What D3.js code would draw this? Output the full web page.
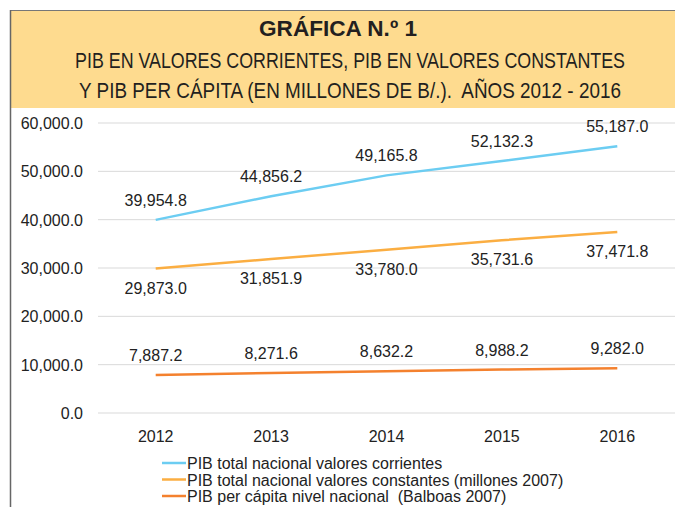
<!DOCTYPE html>
<html>
<head>
<meta charset="utf-8">
<script src="https://cdn.jsdelivr.net/npm/d3@7"></script>
<style>
  body { margin: 0; background: #fff; }
  svg { display: block; }
  text { white-space: pre; }
</style>
</head>
<body>
<svg width="675" height="507"></svg>
<script>
// chart data
const years = ["2012", "2013", "2014", "2015", "2016"];
const corrientes = [39954.8, 44856.2, 49165.8, 52132.3, 55187.0];
const constantes = [29873.0, 31851.9, 33780.0, 35731.6, 37471.8];
const perCapita = [7887.2, 8271.6, 8632.2, 8988.2, 9282.0];
const yTicks = [0, 10000, 20000, 30000, 40000, 50000, 60000];
const seriesNames = [
  "PIB total nacional valores corrientes",
  "PIB total nacional valores constantes (millones 2007)",
  "PIB per cápita nivel nacional  (Balboas 2007)"
];
const titleLines = [
  "GRÁFICA N.º 1",
  "PIB EN VALORES CORRIENTES, PIB EN VALORES CONSTANTES",
  "Y PIB PER CÁPITA (EN MILLONES DE B/.).  AÑOS 2012 - 2016"
];

const series = [
  { name: seriesNames[0], values: corrientes, color: "#6ccdf2", labelDy: -14 },
  { name: seriesNames[1], values: constantes, color: "#fbae42", labelDy: 25 },
  { name: seriesNames[2], values: perCapita, color: "#f4812e", labelDy: -14 }
];

const svg = d3.select("svg");
const fmt = d3.format(",.1f");
const font = "'Liberation Sans', Arial, sans-serif";

// title box
svg.append("rect")
  .attr("x", 10).attr("y", 10)
  .attr("width", 665).attr("height", 98)
  .attr("fill", "#fedb8f");
svg.append("line")
  .attr("x1", 10).attr("x2", 675).attr("y1", 10.5).attr("y2", 10.5)
  .attr("stroke", "#777").attr("stroke-width", 1.2);
svg.append("line")
  .attr("x1", 10.5).attr("x2", 10.5).attr("y1", 10).attr("y2", 507)
  .attr("stroke", "#666").attr("stroke-width", 1.5);

// condensed look: draw at full size, then squeeze horizontally to the width seen
const titleY = [36, 68, 98];
const titleW = [158, 550, 542];
const titleX = [338, 350, 350];
titleLines.forEach((t, i) => {
  const g = svg.append("g");
  const txt = g.append("text")
    .attr("x", 0).attr("y", 0)
    .attr("text-anchor", "middle")
    .attr("font-family", font)
    .attr("font-size", 22.5)
    .attr("font-weight", i === 0 ? "bold" : "normal")
    .attr("fill", "#231f20")
    .text(t);
  const w = txt.node().getComputedTextLength();
  g.attr("transform", `translate(${titleX[i]},${titleY[i]}) scale(${titleW[i] / w},1)`);
});

// scales
const x = d3.scaleBand().domain(years).range([98, 675]);
const y = d3.scaleLinear().domain([0, 60000]).range([413, 123]);

// gridlines
svg.append("g")
  .selectAll("line")
  .data(yTicks)
  .join("line")
  .attr("x1", 98).attr("x2", 675)
  .attr("y1", d => y(d)).attr("y2", d => y(d))
  .attr("stroke", "#d9d9d9").attr("stroke-width", 1);

// y axis labels
svg.append("g")
  .selectAll("text")
  .data(yTicks)
  .join("text")
  .attr("x", 83).attr("y", d => y(d) + 6)
  .attr("text-anchor", "end")
  .attr("font-family", font)
  .attr("font-size", 16)
  .attr("fill", "#222")
  .text(d => fmt(d));

// x axis labels
svg.append("g")
  .selectAll("text")
  .data(years)
  .join("text")
  .attr("x", d => x(d) + x.bandwidth() / 2)
  .attr("y", 442)
  .attr("text-anchor", "middle")
  .attr("font-family", font)
  .attr("font-size", 16)
  .attr("fill", "#222")
  .text(d => d);

// lines + labels
const line = d3.line()
  .x((d, i) => x(years[i]) + x.bandwidth() / 2)
  .y(d => y(d));

series.forEach(s => {
  svg.append("path")
    .attr("d", line(s.values))
    .attr("fill", "none")
    .attr("stroke", s.color)
    .attr("stroke-width", 2.5);

  svg.append("g")
    .selectAll("text")
    .data(s.values)
    .join("text")
    .attr("x", (d, i) => x(years[i]) + x.bandwidth() / 2)
    .attr("y", d => y(d) + s.labelDy)
    .attr("text-anchor", "middle")
    .attr("font-family", font)
    .attr("font-size", 16)
    .attr("fill", "#222")
    .text(d => fmt(d));
});

// legend
const legend = svg.append("g");
series.forEach((s, i) => {
  const ly = 463 + i * 16.5;
  legend.append("line")
    .attr("x1", 162).attr("x2", 186)
    .attr("y1", ly).attr("y2", ly)
    .attr("stroke", s.color).attr("stroke-width", 2.5);
  legend.append("text")
    .attr("x", 187).attr("y", ly + 6)
    .attr("font-family", font)
    .attr("font-size", 16)
    .attr("fill", "#222")
    .text(s.name);
});
</script>
</body>
</html>
